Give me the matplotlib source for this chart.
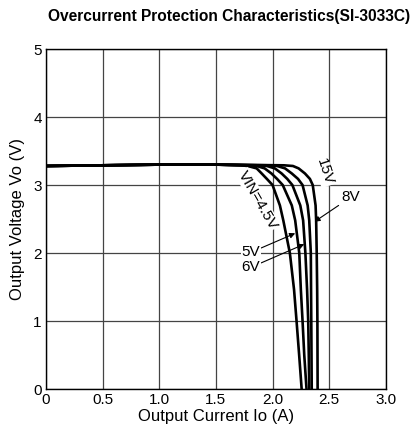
import matplotlib.pyplot as plt

# output voltage levels shared by all curves (V)
volts = [3.28, 3.29, 3.30, 3.30, 3.29, 3.28, 3.245, 3.17, 3.09, 3.00,
         2.70, 2.48, 2.00, 1.46, 1.00, 0.50, 0.0]

# output current for each input voltage (A)
cur_45 = [0, 0.5, 1.0, 1.5, 1.72, 1.78, 1.86, 1.904, 1.95, 2.00,
          2.065, 2.095, 2.153, 2.19, 2.212, 2.235, 2.257]
cur_5 = [0, 0.5, 1.0, 1.5, 1.78, 1.86, 1.93, 1.99, 2.04, 2.09,
         2.17, 2.20, 2.236, 2.25, 2.265, 2.28, 2.30]
cur_6 = [0, 0.5, 1.0, 1.5, 1.86, 1.95, 2.02, 2.08, 2.13, 2.175,
         2.245, 2.27, 2.29, 2.305, 2.315, 2.32, 2.324]
cur_8 = [0, 0.5, 1.0, 1.5, 1.95, 2.04, 2.11, 2.17, 2.225, 2.265,
         2.31, 2.324, 2.338, 2.340, 2.342, 2.344, 2.346]
cur_15 = [0, 0.5, 1.0, 1.5, 2.10, 2.18, 2.23, 2.286, 2.33, 2.355,
          2.38, 2.385, 2.39, 2.394, 2.396, 2.397, 2.398]

xticks = [0, 0.5, 1.0, 1.5, 2.0, 2.5, 3.0]
xlabels = ["0", "0.5", "1.0", "1.5", "2.0", "2.5", "3.0"]
yticks = [0, 1, 2, 3, 4, 5]

plt.rcParams['font.family'] = ['Liberation Sans', 'DejaVu Sans']

fig = plt.figure(figsize=(4.18, 4.32), dpi=100)
ax = fig.add_axes([0.110, 0.0995, 0.813, 0.787])

for c in [cur_45, cur_5, cur_6, cur_8, cur_15]:
    ax.plot(c, volts, color="black", lw=1.9, solid_joinstyle="round", zorder=3)

ax.set_xlim(0, 3.0)
ax.set_ylim(0, 5)
ax.set_xticks(xticks)
ax.set_xticklabels(xlabels)
ax.set_yticks(yticks)
ax.tick_params(length=0, labelsize=11, pad=3)
ax.grid(True, color="#444444", lw=0.9)
for s in ax.spines.values():
    s.set_linewidth(1.0)

ax.set_xlabel("Output Current Io (A)", fontsize=12, labelpad=1)
ax.set_ylabel("Output Voltage Vo (V)", fontsize=12, labelpad=6)
fig.text(0.548, 0.962, "Overcurrent Protection Characteristics(SI-3033C)",
         ha="center", va="center", fontsize=11.2, fontweight="bold")

# labels
box = dict(facecolor="white", edgecolor="none", pad=0.5)
ax.text(1.87, 2.78, "VIN=4.5V", rotation=-60, ha="center", va="center",
        fontsize=11, bbox=box, zorder=4)
ax.text(2.46, 3.19, "15V", rotation=-72, ha="center", va="center",
        fontsize=11, bbox=box, zorder=4)
arrow = dict(arrowstyle="-|>", color="black", lw=0.8, mutation_scale=8,
             shrinkA=0, shrinkB=0)
ax.annotate("8V", xy=(2.37, 2.46), xytext=(2.69, 2.82), ha="center",
            va="center", fontsize=11, arrowprops=arrow, zorder=4)
ax.annotate("5V", xy=(2.20, 2.29), xytext=(1.81, 2.01), ha="center",
            va="center", fontsize=11, bbox=box, arrowprops=arrow, zorder=4)
ax.annotate("6V", xy=(2.28, 2.13), xytext=(1.81, 1.79), ha="center",
            va="center", fontsize=11, bbox=box, arrowprops=arrow, zorder=4)

fig.savefig("out.png", dpi=100)
